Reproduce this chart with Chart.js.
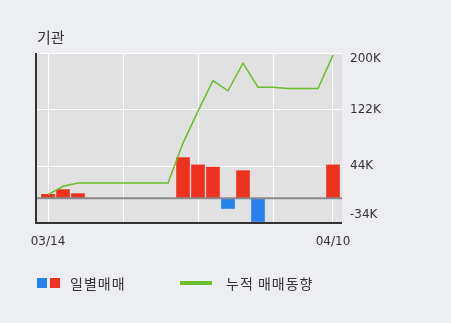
<!DOCTYPE html>
<html>
<head>
<meta charset="utf-8">
<script src="https://cdn.jsdelivr.net/npm/chart.js@4"></script>
<style>
  html, body { margin: 0; padding: 0; background: #eceef1; }
  #wrap { position: relative; width: 451px; height: 323px; font-family: "Noto Sans CJK KR", "DejaVu Sans", sans-serif; color: #333; }
  #c { position: absolute; left: 0; top: 0; }
  .title { position: absolute; left: 37px; top: 28px; font-size: 15px; line-height: 18px; }
  .lg { position: absolute; font-size: 14px; line-height: 16px; top: 275px; letter-spacing: 1px; }
  .sq { position: absolute; width: 10px; height: 10px; top: 278px; }
  .ln { position: absolute; left: 180px; top: 281px; width: 32px; height: 4px; background: #6cbd2c; }
</style>
</head>
<body>
<div id="wrap">
  <canvas id="c" width="451" height="323"></canvas>
  <div class="title">기관</div>
  <div class="sq" style="left:37px;background:#2581ee"></div>
  <div class="sq" style="left:50px;background:#ee3220"></div>
  <div class="lg" style="left:70px">일별매매</div>
  <div class="ln"></div>
  <div class="lg" style="left:226px">누적 매매동향</div>
</div>
<script>
// values in thousands, one per trading day 03/14 .. 04/10
let days = [0, 1, 2, 3, 4, 5, 6, 7, 8, 9, 10, 11, 12, 13, 14, 15, 16, 17, 18, 19]
let dayLabels = { 0: '03/14', 19: '04/10' }
let daily = [5.5, 12, 6.4, 0, 0, 0, 0, 0, 0, 56, 46, 43, -14, 38, -32, 0, 0, 0, 0, 46]
let cumulative = [5, 16.5, 21, 21, 21, 21, 21, 21, 21, 76, 120, 162, 148, 186, 153, 153, 151, 151, 151, 197]
let yTicks = [-34, 44, 122, 200]

const plotDeco = {
  id: 'plotDeco',
  beforeDraw(chart) {
    let a = chart.chartArea, ctx = chart.ctx
    ctx.save()
    ctx.fillStyle = '#e1e1e1'
    ctx.fillRect(a.left, a.top, a.right - a.left, a.bottom - a.top)
    ctx.restore()
  },
  afterDatasetsDraw(chart) {
    let a = chart.chartArea, ctx = chart.ctx
    let ys = chart.scales.y
    let y0 = ys.getPixelForValue(0)
    ctx.save()
    ctx.strokeStyle = '#8a8a8a'
    ctx.lineWidth = 2
    ctx.beginPath()
    ctx.moveTo(a.left, y0)
    ctx.lineTo(a.right, y0)
    ctx.stroke()
    ctx.strokeStyle = '#333'
    ctx.lineWidth = 2
    ctx.beginPath()
    ctx.moveTo(a.left, a.top)
    ctx.lineTo(a.left, a.bottom)
    ctx.lineTo(a.right, a.bottom)
    ctx.stroke()
    // y labels, kept inside the plot height like the original
    ctx.fillStyle = '#333'
    ctx.font = '12px "DejaVu Sans"'
    ctx.textBaseline = 'middle'
    ctx.textAlign = 'left'
    yTicks.forEach(v => {
      let y = Math.min(Math.max(ys.getPixelForValue(v), a.top + 6), a.bottom - 8)
      ctx.fillText(v + 'K', a.right + 8, y)
    })
    ctx.restore()
  }
}

new Chart(document.getElementById('c'), {
  data: {
    datasets: [
      {
        type: 'line',
        data: days.map((d, i) => ({ x: d, y: cumulative[i] })),
        borderColor: '#6cbd2c',
        borderWidth: 1.5,
        pointRadius: 0,
        tension: 0
      },
      {
        type: 'bar',
        data: days.map((d, i) => ({ x: d, y: daily[i] })),
        backgroundColor: daily.map(v => v < 0 ? '#2581ee' : '#ee3220'),
        barThickness: 13
      }
    ]
  },
  options: {
    responsive: false,
    animation: false,
    layout: { padding: { top: 53, left: 36 } },
    plugins: { legend: { display: false }, tooltip: { enabled: false } },
    scales: {
      x: {
        type: 'linear',
        min: -0.8,
        max: 19.6,
        offset: false,
        afterBuildTicks: s => { s.ticks = [0, 5, 10, 15, 19].map(v => ({ value: v })) },
        afterFit: s => { s.height = 100 },
        grid: { color: '#ffffff', lineWidth: 1, drawTicks: false, offset: false },
        border: { display: false },
        ticks: {
          callback: v => dayLabels[v] || '',
          autoSkip: false,
          maxRotation: 0,
          padding: 12,
          color: '#333',
          font: { family: 'DejaVu Sans', size: 12 }
        }
      },
      y: {
        position: 'right',
        min: -34,
        max: 200,
        afterBuildTicks: s => { s.ticks = yTicks.map(v => ({ value: v })) },
        afterFit: s => { s.width = 109 },
        grid: { color: '#ffffff', lineWidth: 1, drawTicks: false },
        border: { display: false },
        ticks: { display: false }
      }
    }
  },
  plugins: [plotDeco]
})
</script>
</body>
</html>
